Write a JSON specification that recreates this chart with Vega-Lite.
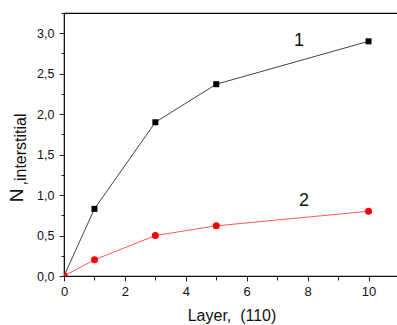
{
  "$schema": "https://vega.github.io/schema/vega-lite/v6.json",
  "autosize": "none",
  "padding": {"left": 64, "top": 13, "right": 0, "bottom": 49},
  "width": 335,
  "height": 263,
  "background": "white",
  "config": {
    "font": "Liberation Sans",
    "view": {"stroke": "#000", "strokeWidth": 1.2},
    "axis": {"grid": false, "labelColor": "#111", "titleColor": "#111", "tickColor": "#222", "domainColor": "#111", "titleFontWeight": "normal", "labelFlush": false}
  },
  "datasets": {
    "series": [
      {"layer": 0, "N": 0, "series": "1"},
      {"layer": 1, "N": 0.83, "series": "1"},
      {"layer": 3, "N": 1.9, "series": "1"},
      {"layer": 5, "N": 2.37, "series": "1"},
      {"layer": 10, "N": 2.9, "series": "1"},
      {"layer": 0, "N": 0, "series": "2"},
      {"layer": 1, "N": 0.2, "series": "2"},
      {"layer": 3, "N": 0.5, "series": "2"},
      {"layer": 5, "N": 0.62, "series": "2"},
      {"layer": 10, "N": 0.8, "series": "2"}
    ],
    "labels": [
      {"layer": 7.72, "N": 2.9, "text": "1"},
      {"layer": 7.88, "N": 0.93, "text": "2"}
    ]
  },
  "resolve": {"axis": {"x": "independent", "y": "independent"}, "scale": {"color": "independent"}},
  "layer": [
    {
      "data": {"name": "series"},
      "mark": {"type": "line", "strokeWidth": 1, "clip": true},
      "encoding": {
        "x": {"field": "layer", "type": "quantitative",
          "scale": {"domain": [0, 11], "nice": false, "zero": false},
          "axis": {"orient": "bottom", "values": [0, 2, 4, 6, 8, 10], "tickSize": 5, "labelFontSize": 13, "labelPadding": 4, "title": "Layer,\u00a0 (110)", "titleFontSize": 16, "titlePadding": 9}},
        "y": {"field": "N", "type": "quantitative",
          "scale": {"domain": [0, 3.25], "nice": false},
          "axis": {"orient": "left", "values": [0, 0.5, 1, 1.5, 2, 2.5, 3], "tickSize": 5, "labelFontSize": 12.5, "labelPadding": 5,
            "labelExpr": "replace(format(datum.value, '.1f'), '.', ',')",
            "title": "N", "titleFontSize": 19, "titleX": -38, "titleY": 182, "titleAlign": "center", "titleBaseline": "bottom"}},
        "color": {"field": "series", "type": "nominal", "legend": null,
          "scale": {"domain": ["1", "2"], "range": ["#444444", "#ff5a5a"]}}
      }
    },
    {
      "data": {"name": "series"},
      "mark": {"type": "point", "filled": true, "opacity": 1, "clip": true},
      "encoding": {
        "x": {"field": "layer", "type": "quantitative", "axis": null},
        "y": {"field": "N", "type": "quantitative", "axis": null},
        "shape": {"field": "series", "type": "nominal", "legend": null,
          "scale": {"domain": ["1", "2"], "range": ["square", "circle"]}},
        "size": {"field": "series", "type": "nominal", "legend": null,
          "scale": {"domain": ["1", "2"], "range": [36, 50]}},
        "color": {"field": "series", "type": "nominal", "legend": null,
          "scale": {"domain": ["1", "2"], "range": ["#000000", "#ff0000"]}}
      }
    },
    {
      "data": {"name": "labels"},
      "mark": {"type": "text", "fontSize": 18, "color": "#111", "align": "center", "baseline": "middle"},
      "encoding": {
        "x": {"field": "layer", "type": "quantitative",
          "axis": {"orient": "bottom", "values": [1, 3, 5, 7, 9, 11], "tickSize": 4, "labels": false, "domain": false, "title": null}},
        "y": {"field": "N", "type": "quantitative",
          "axis": {"orient": "left", "values": [0.25, 0.75, 1.25, 1.75, 2.25, 2.75, 3.25], "tickSize": 3, "labels": false, "domain": false,
            "title": ",interstitial", "titleFontSize": 16, "titleX": -36, "titleY": 136, "titleAlign": "center", "titleBaseline": "bottom"}},
        "text": {"field": "text", "type": "nominal"}
      }
    }
  ]
}
